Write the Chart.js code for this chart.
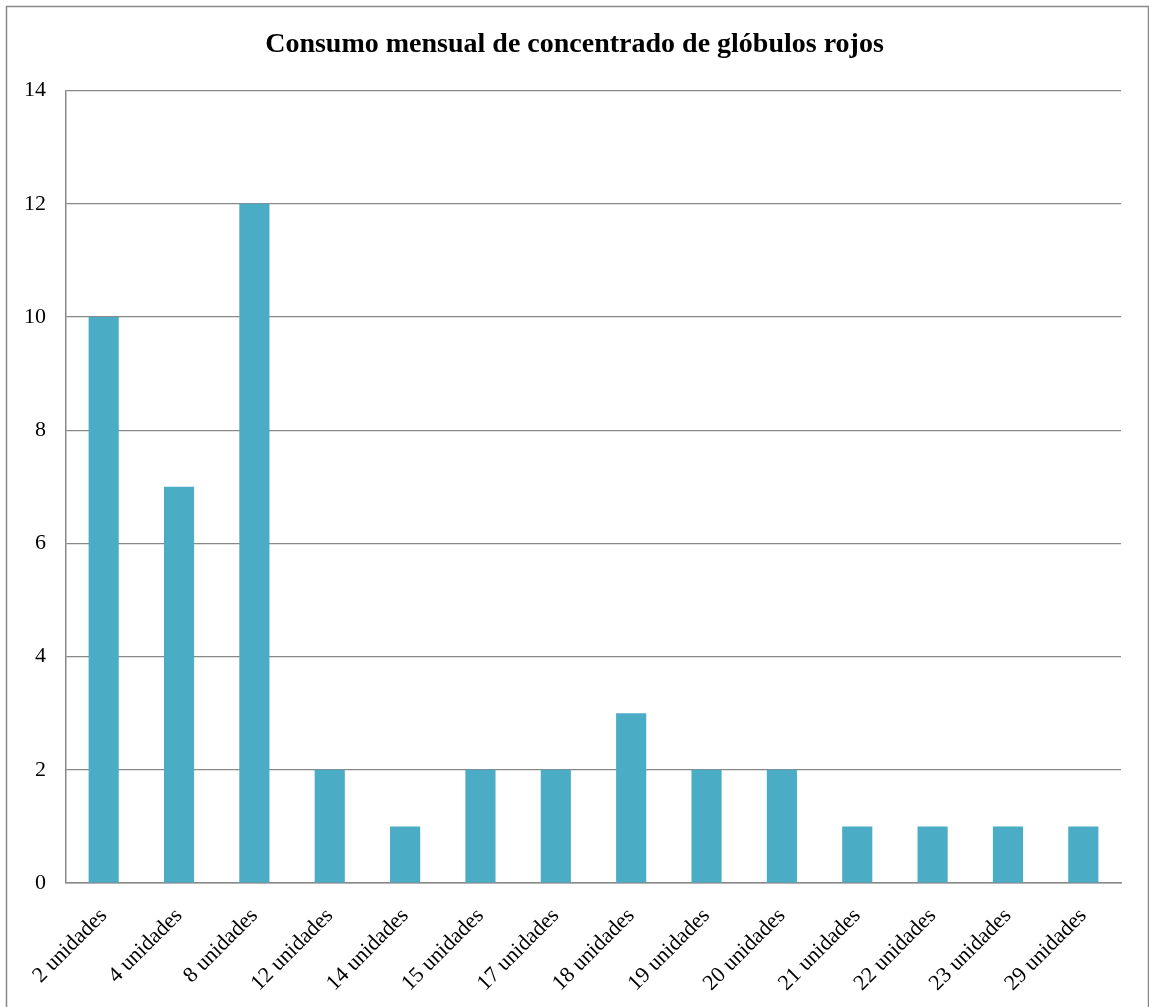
<!DOCTYPE html>
<html>
<head>
<meta charset="utf-8">
<script src="https://cdn.jsdelivr.net/npm/chart.js@4"></script>
<style>
  html, body { margin: 0; padding: 0; background: #fff; }
  #wrap { position: relative; width: 1149px; height: 1007px; }
</style>
</head>
<body>
<div id="wrap"><canvas id="myChart"></canvas></div>
<script>
// Datos del gráfico
const categorias = ['2 unidades', '4 unidades', '8 unidades', '12 unidades', '14 unidades', '15 unidades',
    '17 unidades', '18 unidades', '19 unidades', '20 unidades', '21 unidades', '22 unidades',
    '23 unidades', '29 unidades'];
const pacientes = [10, 7, 12, 2, 1, 2, 2, 3, 2, 2, 1, 1, 1, 1];
const titulo = 'Consumo mensual de concentrado de glóbulos rojos';

const FUENTE = '"Liberation Serif", "Times New Roman", serif';
const GRIS = '#888888';

// Marco exterior del gráfico
const marco = {
    id: 'marco',
    beforeDraw(chart) {
        const ctx = chart.ctx;
        ctx.save();
        ctx.fillStyle = '#fff';
        ctx.fillRect(0, 0, chart.width, chart.height);
        ctx.strokeStyle = GRIS;
        ctx.lineWidth = 1.5;
        ctx.strokeRect(6.5, 6.5, chart.width - 7, chart.height + 10);
        ctx.restore();
    }
};

const ctx = document.getElementById('myChart').getContext('2d');
new Chart(ctx, {
    type: 'bar',
    data: {
        labels: categorias,
        datasets: [{
            data: pacientes,
            backgroundColor: '#4BACC6',
            categoryPercentage: 1,
            barPercentage: 0.4
        }]
    },
    options: {
        responsive: true,
        maintainAspectRatio: false,
        animation: false,
        layout: { padding: 0 },
        plugins: {
            legend: { display: false },
            tooltip: { enabled: false },
            title: {
                display: true,
                text: titulo,
                color: '#000',
                font: { family: FUENTE, size: 28, weight: 'bold' },
                padding: { top: 28, bottom: 29 }
            }
        },
        scales: {
            x: {
                grid: { display: false, drawTicks: false },
                border: { display: true, color: GRIS, width: 1.5 },
                ticks: {
                    color: '#000',
                    font: { family: FUENTE, size: 22 },
                    minRotation: 45,
                    maxRotation: 45,
                    padding: 20
                },
                afterFit(scale) { scale.height = 124; }
            },
            y: {
                min: 0,
                max: 14,
                grid: { color: GRIS, lineWidth: 1.2, drawTicks: false },
                border: { display: true, color: GRIS, width: 1.5 },
                ticks: {
                    stepSize: 2,
                    color: '#000',
                    font: { family: FUENTE, size: 22 },
                    padding: 20
                },
                afterFit(scale) { scale.width = 66; }
            },
            // eje vacío a la derecha para dejar el margen
            margen: {
                position: 'right',
                min: 0,
                max: 14,
                grid: { display: false, drawTicks: false },
                border: { display: false },
                ticks: { display: false },
                afterFit(scale) { scale.width = 28; }
            }
        }
    },
    plugins: [marco]
});
</script>
</body>
</html>
